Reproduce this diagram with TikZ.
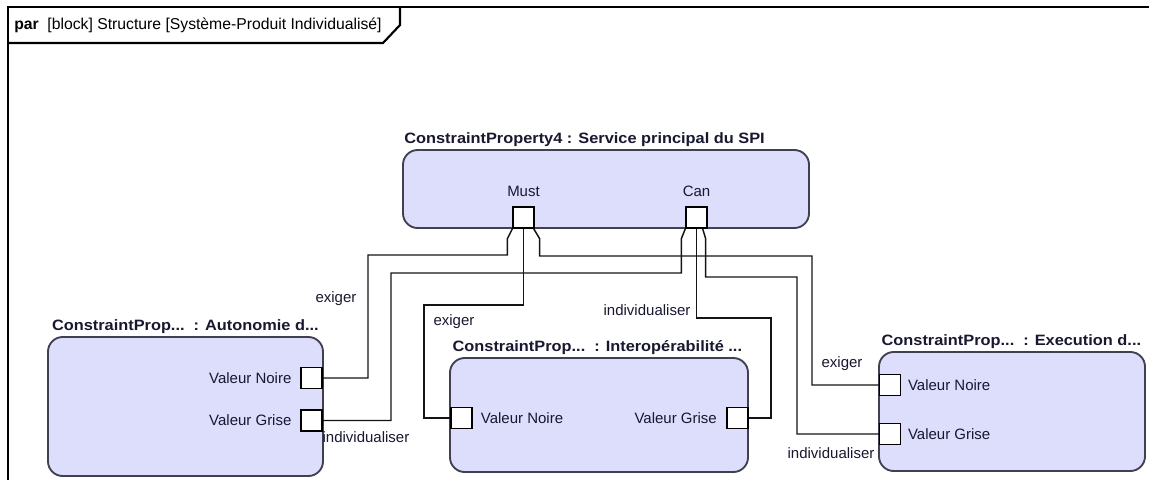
\documentclass[tikz,border=0pt]{standalone}
\usepackage{fontspec}
\setmainfont{Liberation Sans}
\newfontfamily\titlefont[FakeStretch=1.09]{Liberation Sans}
\usetikzlibrary{positioning, calc}
\definecolor{blockfill}{RGB}{221, 221, 252}
\definecolor{blockline}{RGB}{64, 64, 80}
\definecolor{inkdark}{RGB}{24, 24, 48}
\definecolor{wiregray}{RGB}{20, 20, 20}
\tikzset{
    block/.style={
        rectangle, rounded corners=11pt, draw=blockline, fill=blockfill,
        line width=1.4pt, inner sep=0pt
    },
    port/.style={rectangle, draw=black, fill=white, line width=1.2pt, minimum size=15.5pt, inner sep=0pt},
    wire/.style={draw=wiregray, line width=1.1pt},
    blocktitle/.style={font=\titlefont\fontsize{11.25}{13}\selectfont\bfseries, text=inkdark, inner sep=1.5pt},
    portlabel/.style={font=\fontsize{11.25}{13}\selectfont, text=inkdark, inner sep=0pt},
    wirelabel/.style={font=\fontsize{11.25}{13}\selectfont, text=inkdark, inner sep=0pt},
    frame/.style={line width=1.6pt, draw=black},
}
\begin{document}
\begin{tikzpicture}[x=0.75pt, y=-0.75pt]
    \useasboundingbox (0,0) rectangle (1149,480);
    \fill[white] (0,0) rectangle (1149,480);

    \draw[frame] (1149,7) -- (8,7) -- (8,480);
    \draw[frame] (8,43) -- (383,43) -- (400,25) -- (400,7);
    \node[portlabel, anchor=west, text=black, font=\fontsize{11.8}{13}\selectfont] (diagtitle) at (14,25) {\textbf{par}\ \ [block] Structure [Système-Produit Individualisé]};

    \node[block, minimum width=304.5pt, minimum height=58.5pt] (cp4) at (606,189) {};
    \node[block, minimum width=206.25pt, minimum height=104.25pt] (autonomie) at (185.5,406.5) {};
    \node[block, minimum width=223.5pt, minimum height=85.5pt] (interop) at (599,415) {};
    \node[block, minimum width=199.5pt, minimum height=89.25pt] (execution) at (1012,411.5) {};

    \node[blocktitle, anchor=south west] (cp4title) at (cp4.north west) {ConstraintProperty4 : Service principal du SPI};
    \node[blocktitle, anchor=south west, xshift=2pt] (autotitle) at (autonomie.north west) {ConstraintProp...\hspace{0.6em}: Autonomie d...};
    \node[blocktitle, anchor=south west, xshift=1pt] (intertitle) at (interop.north west) {ConstraintProp...\hspace{0.6em}: Interopérabilité ...};
    \node[blocktitle, anchor=south west, xshift=1pt] (exectitle) at (execution.north west) {ConstraintProp...\hspace{0.6em}: Execution d...};

    \node[port] (must) at (523.5,217.5) {};
    \node[port] (can) at (696.5,217.5) {};
    \node[port] (autoNoire) at (311.5,378) {};
    \node[port] (autoGrise) at (311.5,420.5) {};
    \node[port] (interNoire) at (461.5,418) {};
    \node[port] (interGrise) at (737.5,418) {};
    \node[port] (execNoire) at (890,385) {};
    \node[port] (execGrise) at (890,434) {};

    \node[portlabel, above=7pt of must] (mustlabel) {Must};
    \node[portlabel, above=7pt of can] (canlabel) {Can};
    \node[portlabel, left=6.5pt of autoNoire] (autoNoirelabel) {Valeur Noire};
    \node[portlabel, left=6.5pt of autoGrise] (autoGriselabel) {Valeur Grise};
    \node[portlabel, right=6pt of interNoire] (interNoirelabel) {Valeur Noire};
    \node[portlabel, left=7pt of interGrise] (interGriselabel) {Valeur Grise};
    \node[portlabel, right=5pt of execNoire] (execNoirelabel) {Valeur Noire};
    \node[portlabel, right=5pt of execGrise] (execGriselabel) {Valeur Grise};

    \draw[wire] (must.south west) -- ++(-5,10) |- (368,255) |- (autoNoire);
    \draw[wire] (must.south) |- (424,305) |- (interNoire);
    \draw[wire] ($(must.south east)+(-1,0)$) -- ++(6,10) |- (812,256) |- (execNoire);
    \draw[wire] (can.south west) -- ++(-4,10) |- (391,273) |- (autoGrise);
    \draw[wire] (can.south) |- (771,318) |- (interGrise);
    \draw[wire] ($(can.south east)+(-5,0)$) -- ++(3,10) |- (797,277) |- (execGrise);

    \node[wirelabel] (exigerA) at (336,299) {exiger};
    \node[wirelabel] (exigerB) at (454,322) {exiger};
    \node[wirelabel] (exigerC) at (842,364) {exiger};
    \node[wirelabel] (indivA) at (366,437) {individualiser};
    \node[wirelabel] (indivB) at (647,310) {individualiser};
    \node[wirelabel] (indivC) at (831,453) {individualiser};
\end{tikzpicture}
\end{document}
